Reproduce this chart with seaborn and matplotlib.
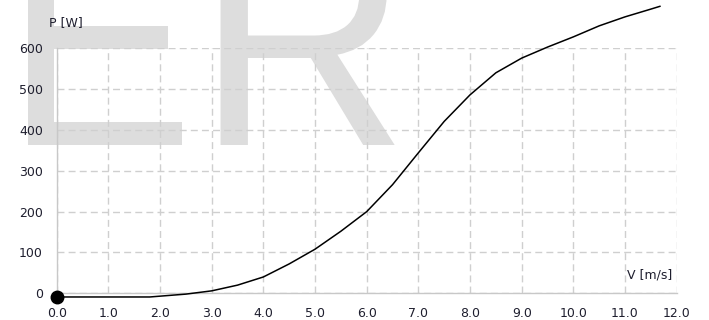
import numpy as np
import pandas as pd
import matplotlib
matplotlib.use("Agg")
import matplotlib.pyplot as plt
import matplotlib.transforms as mtransforms
from matplotlib.textpath import TextPath
from matplotlib.patches import PathPatch
from matplotlib.font_manager import FontProperties
import seaborn as sns

# power curve
wind_speed = [0.0, 0.5, 1.0, 1.5, 1.8, 2.0, 2.5, 3.0, 3.5, 4.0, 4.5, 5.0, 5.5,
              6.0, 6.5, 7.0, 7.5, 8.0, 8.5, 9.0, 9.5, 10.0, 10.5, 11.0, 11.5, 11.68]
power = [-9, -9, -9, -9, -9, -7, -2, 6, 20, 40, 72, 108, 152,
         200, 266, 344, 421, 486, 540, 576, 603, 628, 655, 677, 696, 703]

x_ticks = [0, 1, 2, 3, 4, 5, 6, 7, 8, 9, 10, 11, 12]
y_ticks = [0, 100, 200, 300, 400, 500, 600]

df = pd.DataFrame({"V": wind_speed, "P": power})

sns.set_style("white")
plt.rcParams['font.family'] = ['DejaVu Sans']

grid_col = '#cfcfcf'
text_col = '#1e1e2e'
W, H = 709, 320

fig = plt.figure(figsize=(7.09, 3.20), dpi=100)
ax = fig.add_axes([56.7 / W, 1 - 293.3 / H, 620 / W, 245 / H])
ax.patch.set_alpha(0)

# big grey "ER" watermark behind the chart, cut at the top edge
px_to_fig = mtransforms.Affine2D().scale(1 / W, 1 / H) + fig.transFigure
fp = FontProperties(family='Liberation Sans')
for letter, x0, sx in [("E", 4.5, 1.0), ("R", 6.5, 1.03)]:
    tp = TextPath((0, 0), letter, size=284.7, prop=fp)
    tr = mtransforms.Affine2D().scale(sx, 1.07).translate(x0, H - 145)
    if letter == "R":
        tr = mtransforms.Affine2D().scale(sx, 1.07).translate(x0 + 190, H - 145)
    fig.add_artist(PathPatch(tp, facecolor='#dddddd', edgecolor='none',
                             transform=tr + px_to_fig, zorder=-1))

sns.lineplot(data=df, x="V", y="P", color='black', linewidth=1.1, ax=ax)
ax.lines[0].set_clip_on(False)
ax.lines[0].set_zorder(5)
ax.plot(wind_speed[0], power[0], 'o', color='black', markersize=9,
        clip_on=False, zorder=6)

ax.set_xlim(0, 12)
ax.set_ylim(0, 600)
ax.set_xticks(x_ticks)
ax.set_xticklabels([f"{t:.1f}" for t in x_ticks])
ax.set_yticks(y_ticks)
ax.set_xlabel("")
ax.set_ylabel("")

ax.grid(True, color=grid_col, linestyle=(0, (5, 3)), linewidth=1)
ax.set_axisbelow(True)
for s in ['top', 'right']:
    ax.spines[s].set_visible(False)
for s in ['left', 'bottom']:
    ax.spines[s].set_color('#c8c8c8')
    ax.spines[s].set_linewidth(1)

ax.tick_params(axis='both', length=7, width=1, color=grid_col,
               labelsize=9, labelcolor=text_col, pad=3)

ax.text(-0.013, 1.08, "P [W]", transform=ax.transAxes, fontsize=9,
        color=text_col, ha='left', va='bottom')
ax.text(0.993, 0.05, "V [m/s]", transform=ax.transAxes, fontsize=9,
        color=text_col, ha='right', va='bottom')

fig.savefig("out.png", dpi=100)
